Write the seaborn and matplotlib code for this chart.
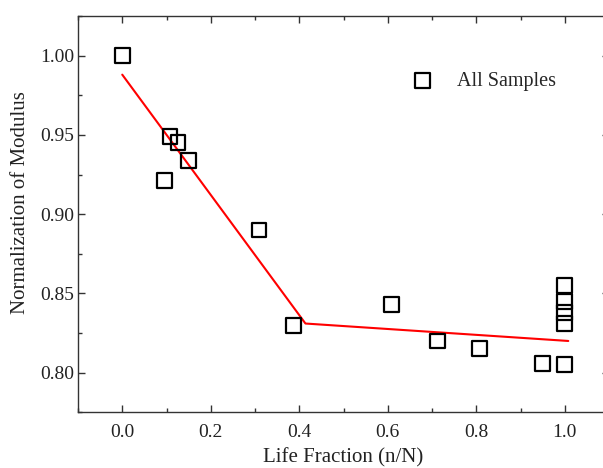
import matplotlib
matplotlib.use("Agg")
import matplotlib.pyplot as plt
import seaborn as sns
import pandas as pd
from matplotlib.ticker import MultipleLocator, FormatStrFormatter

# Data
life_fraction = [0.0, 0.108, 0.126, 0.149, 0.095, 0.309, 0.388, 0.609, 0.713, 0.808,
                 0.950, 1.0, 1.0, 1.0, 1.0, 1.0]
modulus = [1.000, 0.949, 0.945, 0.934, 0.921, 0.890, 0.830, 0.843, 0.820, 0.815,
           0.806, 0.805, 0.855, 0.845, 0.838, 0.831]
fit_x = [0.0, 0.414, 1.008]
fit_y = [0.988, 0.831, 0.820]

sns.set_style("ticks")
plt.rcParams['font.family'] = ['Liberation Serif', 'DejaVu Serif']

df = pd.DataFrame({"x": life_fraction, "y": modulus})
fit = pd.DataFrame({"x": fit_x, "y": fit_y})

fig = plt.figure(figsize=(6.03, 4.68), dpi=100)
ax = fig.add_axes([78 / 603, 1 - 412.3 / 468, 531 / 603, (412.3 - 16) / 468])

sns.lineplot(data=fit, x="x", y="y", ax=ax, color="#ff0000", linewidth=1.5,
             zorder=2, legend=False)
sns.scatterplot(data=df, x="x", y="y", ax=ax, marker="s", s=115,
                facecolor="none", edgecolor="black", linewidth=1.6,
                label="All Samples", zorder=3)

ax.set_xlim(-0.1, 1.1)
ax.set_ylim(0.775, 1.025)
ax.xaxis.set_major_locator(MultipleLocator(0.2))
ax.xaxis.set_minor_locator(MultipleLocator(0.1))
ax.yaxis.set_major_locator(MultipleLocator(0.05))
ax.yaxis.set_minor_locator(MultipleLocator(0.025))
ax.xaxis.set_major_formatter(FormatStrFormatter('%.1f'))
ax.yaxis.set_major_formatter(FormatStrFormatter('%.2f'))

ax.tick_params(which='both', direction='in', top=True, right=True, color='#333333',
               width=1.0, labelsize=14, labelcolor='#222222')
ax.tick_params(which='major', length=5)
ax.tick_params(which='minor', length=3)
ax.tick_params(axis='x', which='major', pad=8.5)
ax.tick_params(axis='y', which='major', pad=2.5)
for sp in ax.spines.values():
    sp.set_color('#333333')
    sp.set_linewidth(1.0)

ax.set_xlabel("Life Fraction (n/N)", fontsize=15, color='#222222', labelpad=5)
ax.set_ylabel("Normalization of Modulus", fontsize=15, color='#222222')
ax.yaxis.set_label_coords(-0.09, 0.53)

ax.legend(frameon=False, loc='center left', bbox_to_anchor=(412 / 603, 1 - 81 / 468),
          bbox_transform=fig.transFigure, borderpad=0, borderaxespad=0,
          handlelength=1.0, handletextpad=1.25, fontsize=14.5)

fig.savefig("out.png", dpi=100)
